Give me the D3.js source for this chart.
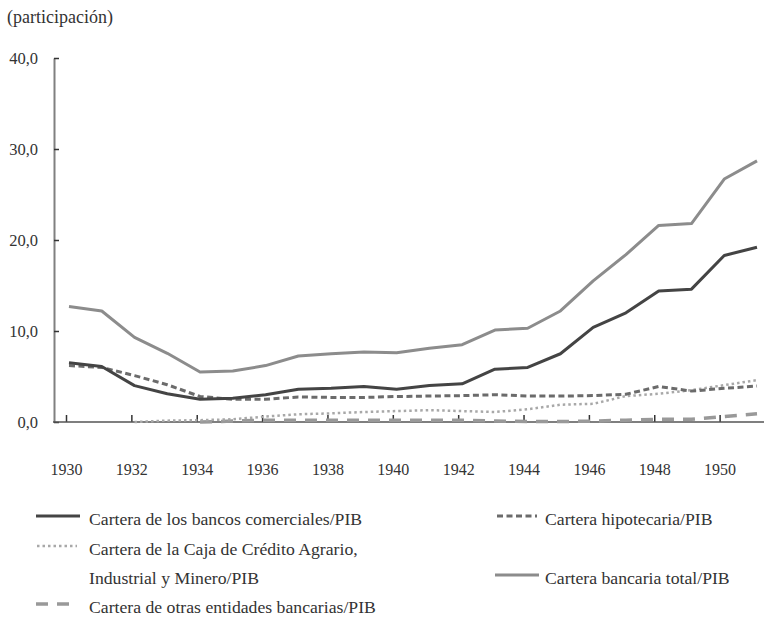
<!DOCTYPE html>
<meta charset="utf-8">
<style>
    body { margin: 0; background: #fff; }
    text { font-family: 'Liberation Serif', serif; fill: #333; }
    .axis text { font-size: 16px; }
    .legend text { font-size: 17.7px; }
    .series { fill: none; stroke-linejoin: round; }
</style>
<body>
<div id="chart"></div>
<script src="https://d3js.org/d3.v7.min.js"></script>
<script>
    var width = 764,
        height = 617;

    var years = [1930, 1931, 1932, 1933, 1934, 1935, 1936, 1937, 1938, 1939, 1940,
                 1941, 1942, 1943, 1944, 1945, 1946, 1947, 1948, 1949, 1950, 1951];

    var comerciales = [6.5, 6.1, 4.0, 3.1, 2.5, 2.6, 3.0, 3.6, 3.7, 3.9, 3.6,
                       4.0, 4.2, 5.8, 6.0, 7.5, 10.4, 12.0, 14.4, 14.6, 18.3, 19.2];
    var hipotecaria = [6.2, 6.0, 5.1, 4.1, 2.8, 2.5, 2.5, 2.75, 2.7, 2.7, 2.8,
                       2.85, 2.9, 3.0, 2.85, 2.85, 2.9, 3.05, 3.9, 3.4, 3.7, 3.95];
    var caja = [null, null, 0.0, 0.15, 0.2, 0.3, 0.6, 0.85, 0.95, 1.1, 1.2,
                1.3, 1.2, 1.1, 1.4, 1.9, 2.0, 2.85, 3.1, 3.5, 4.05, 4.6];
    var otras = [null, null, null, null, 0.0, 0.1, 0.2, 0.2, 0.2, 0.2, 0.2,
                 0.2, 0.2, 0.1, 0.05, 0.05, 0.1, 0.2, 0.3, 0.3, 0.6, 0.9];
    var total = [12.7, 12.2, 9.3, 7.55, 5.5, 5.6, 6.2, 7.25, 7.5, 7.7, 7.6,
                 8.1, 8.5, 10.1, 10.3, 12.2, 15.5, 18.4, 21.6, 21.8, 26.7, 28.7];

    var yTicks = [0, 10, 20, 30, 40];
    var xTickYears = [1930, 1932, 1934, 1936, 1938, 1940, 1942, 1944, 1946, 1948, 1950];

    var series = [
        {name: "Cartera de los bancos comerciales/PIB", values: comerciales, color: "#444", width: 3, dash: null},
        {name: "Cartera hipotecaria/PIB", values: hipotecaria, color: "#6b6b6b", width: 3, dash: "6,3.5"},
        {name: "Cartera de la Caja de Crédito Agrario,|Industrial y Minero/PIB", values: caja, color: "#a8a8a8", width: 2.5, dash: "2.5,3"},
        {name: "Cartera bancaria total/PIB", values: total, color: "#8c8c8c", width: 3, dash: null},
        {name: "Cartera de otras entidades bancarias/PIB", values: otras, color: "#999", width: 3.5, dash: "12,9"}
    ];

    var svg = d3.select("#chart").append("svg")
        .attr("width", width)
        .attr("height", height);

    var x = d3.scaleLinear().domain([1930, 1951]).range([69, 757]);
    var xTick = d3.scaleLinear().domain([1930, 1951]).range([66, 752.3]);
    var y = d3.scaleLinear().domain([0, 40]).range([422, 58]);

    var fmt = d => d.toFixed(1).replace(".", ",");

    svg.append("text")
        .attr("x", 7)
        .attr("y", 23)
        .style("font-size", "18px")
        .text("(participación)");

    // y axis
    var yAxis = svg.append("g")
        .attr("class", "axis")
        .attr("transform", "translate(54,0)")
        .call(d3.axisLeft(y).tickValues(yTicks).tickSize(-5).tickSizeOuter(0).tickPadding(16).tickFormat(fmt));
    yAxis.select(".domain").attr("stroke", "#808080").attr("stroke-width", 2);
    yAxis.selectAll(".tick line").attr("stroke", "#333").attr("stroke-width", 1.5);
    yAxis.selectAll("text").attr("fill", "#333").style("font-size", "16.5px");

    // x axis
    var xAxis = svg.append("g")
        .attr("class", "axis")
        .attr("transform", "translate(0,422)")
        .call(d3.axisBottom(xTick).tickValues(xTickYears).tickSize(-7).tickSizeOuter(0).tickPadding(42).tickFormat(d3.format("d")));
    xAxis.select(".domain").remove();
    xAxis.append("line")
        .attr("x1", 53).attr("x2", 764)
        .attr("stroke", "#555").attr("stroke-width", 1.5);
    xAxis.selectAll(".tick line").attr("stroke", "#333").attr("stroke-width", 1.5);
    xAxis.selectAll("text").attr("fill", "#333");

    var line = d3.line()
        .defined(d => d[1] !== null)
        .x(d => x(d[0]))
        .y(d => y(d[1]));

    var drawOrder = [4, 2, 1, 3, 0];
    drawOrder.forEach(i => {
        var s = series[i];
        svg.append("path")
            .datum(years.map((yr, j) => [yr, s.values[j]]))
            .attr("class", "series")
            .attr("d", line)
            .attr("stroke", s.color)
            .attr("stroke-width", s.width)
            .attr("stroke-dasharray", s.dash);
    });

    // legend
    var legendPos = [
        {x: 36, y: 525, len: 44},
        {x: 497, y: 525, len: 40},
        {x: 37, y: 555, len: 40},
        {x: 495, y: 584, len: 44},
        {x: 36, y: 613, len: 36}
    ];

    var legend = svg.append("g").attr("class", "legend");
    series.forEach((s, i) => {
        var p = legendPos[i];
        legend.append("line")
            .attr("x1", p.x).attr("x2", p.x + p.len)
            .attr("y1", p.y - 9).attr("y2", p.y - 9)
            .attr("stroke", s.color)
            .attr("stroke-width", s.width)
            .attr("stroke-dasharray", s.dash);
        var tx = p.x < 100 ? 89 : 545;
        s.name.split("|").forEach((t, k) => {
            legend.append("text")
                .attr("x", tx)
                .attr("y", p.y + k * 29)
                .text(t);
        });
    });
</script>
</body>
